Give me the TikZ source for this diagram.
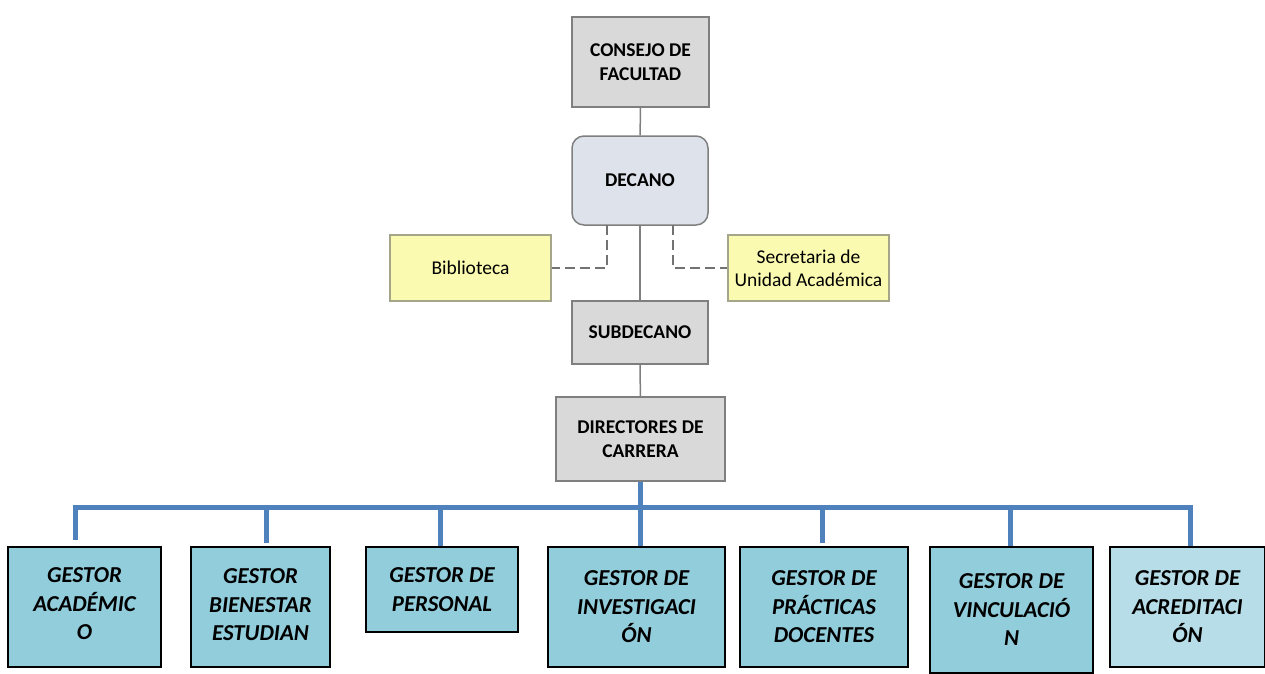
\documentclass[tikz,border=0pt]{standalone}
\usepackage{fontspec}
\setmainfont{Carlito}
\usetikzlibrary{positioning}
\definecolor{boxgray}{HTML}{D9D9D9}
\definecolor{linegray}{HTML}{7F7F7F}
\definecolor{decanofill}{HTML}{DEE2EA}
\definecolor{notefill}{HTML}{FAFAB0}
\definecolor{notedraw}{HTML}{A5A58A}
\definecolor{gestorfill}{HTML}{92CDDC}
\definecolor{gestorlight}{HTML}{B7DEE8}
\definecolor{busblue}{HTML}{4F81BD}

\begin{document}
\begin{tikzpicture}[x=1pt,y=-1pt]
				\tikzset{cargo/.style = {shape=rectangle,draw=linegray,fill=boxgray,line width=1.5pt,
						inner sep=0pt,align=center,font=\fontsize{19.5}{24}\selectfont\bfseries}}
				\tikzset{apoyo/.style = {shape=rectangle,draw=notedraw,fill=notefill,line width=1.5pt,
						inner sep=0pt,align=center,minimum width=161pt,minimum height=66pt,
						font=\fontsize{19.5}{23}\selectfont}}
				\tikzset{gestor/.style = {shape=rectangle,draw=black,fill=gestorfill,line width=1.2pt,
						inner sep=0pt,align=center,font=\fontsize{22.8}{28.5}\selectfont\bfseries\itshape}}
				\tikzset{edge/.style = {draw=linegray,line width=1.5pt}}
				\tikzset{edgedash/.style = {draw=linegray!90!black,line width=1.8pt,dash pattern=on 10pt off 5pt}}
				\tikzset{bus/.style = {draw=busblue,line width=5pt}}
				
				\useasboundingbox (0,0) rectangle (1265,673);
				
				% vertices
				\node[cargo,minimum width=137pt,minimum height=90pt] (consejo) at (640.5,62) {CONSEJO DE\\FACULTAD};
				\node[cargo,fill=decanofill,rounded corners=12pt,minimum width=136pt,minimum height=89pt] (decano) at (640,180.5) {DECANO};
				\node[apoyo] (biblio) at (470.5,268) {Biblioteca};
				\node[apoyo] (secret) at (808.5,268) {Secretaria de\\Unidad Académica};
				\node[cargo,minimum width=136pt,minimum height=63pt] (subdec) at (640,332.5) {SUBDECANO};
				\node[cargo,minimum width=169pt,minimum height=84pt] (direct) at (640.5,439) {DIRECTORES DE\\CARRERA};
				
				\node[gestor,minimum width=153pt,minimum height=120pt,text depth=6pt] (g1) at (84.5,607) {GESTOR\\ACADÉMIC\\O};
				\node[gestor,minimum width=139pt,minimum height=120pt,text depth=4pt] (g2) at (260.5,607) {GESTOR\\BIENESTAR\\ESTUDIAN};
				\node[gestor,minimum width=152pt,minimum height=85pt] (g3) at (442,589.5) {GESTOR DE\\PERSONAL};
				\node[gestor,minimum width=177pt,minimum height=120pt] (g4) at (636.5,607) {GESTOR DE\\INVESTIGACI\\ÓN};
				\node[gestor,minimum width=168pt,minimum height=120pt] (g5) at (824,607) {GESTOR DE\\PRÁCTICAS\\DOCENTES};
				\node[gestor,minimum width=163pt,minimum height=126pt] (g6) at (1011.5,610) {GESTOR DE\\VINCULACIÓ\\N};
				\node[gestor,fill=gestorlight,minimum width=155pt,minimum height=120pt] (g7) at (1187.5,607) {GESTOR DE\\ACREDITACI\\ÓN};
				
				% bus points
				\coordinate (b1) at (75,507);
				\coordinate (b2) at (266,507);
				\coordinate (b3) at (440,507);
				\coordinate (b4) at (640,507);
				\coordinate (b5) at (822,507);
				\coordinate (b6) at (1010,507);
				\coordinate (b7) at (1190,507);
				\coordinate (dl) at (607,225);
				\coordinate (dr) at (673,225);
				
				%edges
				\draw[edge] (consejo) -- (decano);
				\draw[edge] (decano) -- (subdec);
				\draw[edge] (subdec) -- (direct);
				\draw[edgedash] (dl) |- (biblio.east);
				\draw[edgedash] (dr) |- (secret.west);
				
				\draw[bus] (direct.south -| b4) -- (b4 |- g4.north);
				\draw[bus] ([xshift=-2.5pt]b1) -- ([xshift=2.5pt]b7);
				\draw[bus,shorten >=6pt] (b1) -- (b1 |- g1.north);
				\draw[bus,shorten >=3pt] (b2) -- (b2 |- g2.north);
				\draw[bus] (b3) -- (b3 |- g3.north);
				\draw[bus,shorten >=3pt] (b5) -- (b5 |- g5.north);
				\draw[bus] (b6) -- (b6 |- g6.north);
				\draw[bus] (b7) -- (b7 |- g7.north);
				
				\end{tikzpicture}
\end{document}
